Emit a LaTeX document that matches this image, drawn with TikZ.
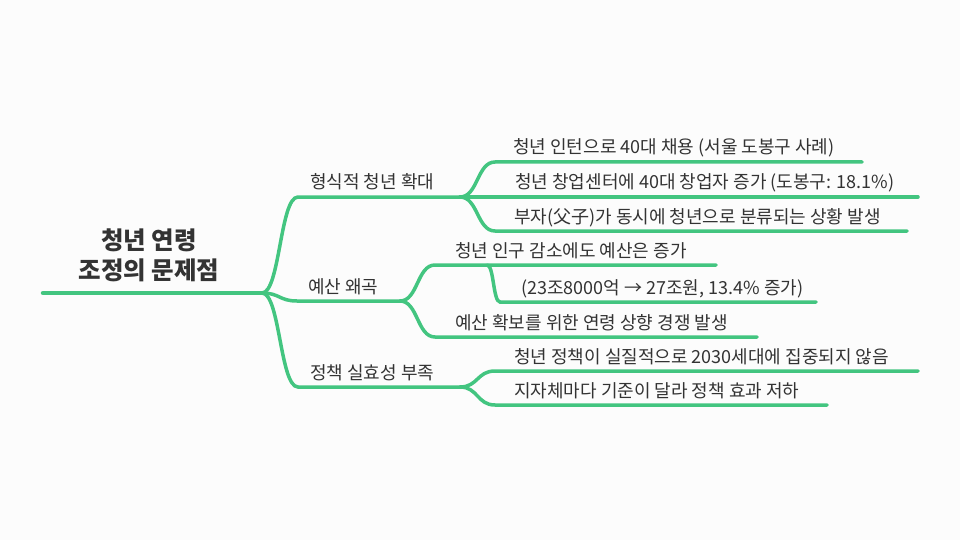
\documentclass[tikz,border=0pt]{standalone}
\usepackage{fontspec}
\setmainfont{Noto Sans CJK KR}
\definecolor{mmgreen}{RGB}{67,197,128}
\definecolor{mmtext}{RGB}{51,51,51}
\definecolor{mmbg}{RGB}{252,252,252}
\tikzset{
  branch/.style={draw=mmgreen,line width=3.5pt,line cap=round},
  trunk/.style={branch,line width=4.5pt},
  lbl/.style={anchor=base west,inner sep=0pt,text=mmtext,font=\fontsize{18}{22}\selectfont},
  title/.style={align=center,text=mmtext,font=\fontsize{24.5}{30}\selectfont\bfseries}
}

\begin{document}
\begin{tikzpicture}[x=1pt,y=-1pt]
\fill[mmbg] (0,0) rectangle (960,540);
\useasboundingbox (0,0) rectangle (960,540);
% root
\node[title] (root) at (149,255) {청년 연령\\조정의 문제점};
\coordinate (r0) at (43,293);
\coordinate (r1) at (262,293);
\draw[trunk] (r0) -- (r1);
% level 1
\coordinate (a0) at (298,197); \coordinate (a1) at (460,197);
\coordinate (b0) at (297,301); \coordinate (b1) at (400,301);
\coordinate (c0) at (298,387); \coordinate (c1) at (460,387);
\draw[branch] (r1) .. controls +(18,0) and +(-18,0) .. (a0) -- (a1);
\draw[branch] (r1) .. controls +(18,0) and +(-18,0) .. (b0) -- (b1);
\draw[branch] (r1) .. controls +(18,0) and +(-18,0) .. (c0) -- (c1);
\node[lbl] (ta) at (310,189) {형식적 청년 확대};
\node[lbl] (tb) at (308,293) {예산 왜곡};
\node[lbl] (tc) at (310,379) {정책 실효성 부족};
% level 2
\coordinate (a10) at (495,162); \coordinate (a11) at (862,162);
\coordinate (a20) at (495,197); \coordinate (a21) at (918,197);
\coordinate (a30) at (495,231); \coordinate (a31) at (907,231);
\draw[branch] (a1) .. controls +(18,0) and +(-18,0) .. (a10) -- (a11);
\draw[branch] (a1) -- (a20) -- (a21);
\draw[branch] (a1) .. controls +(18,0) and +(-18,0) .. (a30) -- (a31);
\node[lbl] (ta1) at (513,154) {청년 인턴으로 40대 채용 (서울 도봉구 사례)};
\node[lbl] (ta2) at (515,189) {청년 창업센터에 40대 창업자 증가 (도봉구: 18.1\%)};
\node[lbl] (ta3) at (514,223) {부자(父子)가 동시에 청년으로 분류되는 상황 발생};
\coordinate (b10) at (435,265); \coordinate (b11) at (716,265);
\coordinate (b20) at (435,337); \coordinate (b21) at (757,337);
\draw[branch] (b1) .. controls +(18,0) and +(-18,0) .. (b10) -- (b11);
\draw[branch] (b1) .. controls +(18,0) and +(-18,0) .. (b20) -- (b21);
\node[lbl] (tb1) at (455,257) {청년 인구 감소에도 예산은 증가};
\node[lbl] (tb2) at (455,329) {예산 확보를 위한 연령 상향 경쟁 발생};
% level 3
\coordinate (b1x) at (487,265);
\coordinate (b1a0) at (500,302); \coordinate (b1a1) at (816,302);
\draw[branch] (b1x) .. controls +(7,0) and +(-7,0) .. (b1a0) -- (b1a1);
\node[lbl] (tb1a) at (521,294) {(23조8000억 → 27조원, 13.4\% 증가)};
\coordinate (c10) at (495,371); \coordinate (c11) at (918,371);
\coordinate (c20) at (495,405); \coordinate (c21) at (827,405);
\draw[branch] (c1) .. controls +(18,0) and +(-18,0) .. (c10) -- (c11);
\draw[branch] (c1) .. controls +(18,0) and +(-18,0) .. (c20) -- (c21);
\node[lbl] (tc1) at (514,363) {청년 정책이 실질적으로 2030세대에 집중되지 않음};
\node[lbl] (tc2) at (514,397) {지자체마다 기준이 달라 정책 효과 저하};
\end{tikzpicture}
\end{document}
